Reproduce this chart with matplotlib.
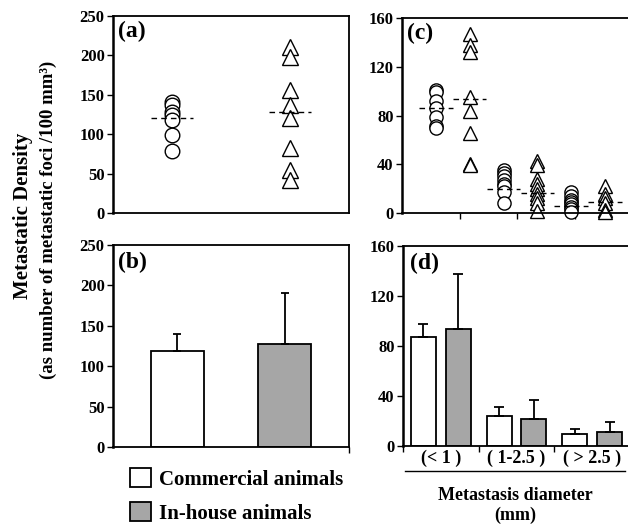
import matplotlib
matplotlib.use('Agg')
import matplotlib.pyplot as plt
from matplotlib.patches import Patch
import numpy as np

plt.rcParams['font.family'] = ['Liberation Serif', 'DejaVu Serif']
plt.rcParams['font.weight'] = 'bold'

# panel (a): individual animals
comm_a = [141, 137, 128, 124, 118, 99, 79]
inh_a = [211, 198, 156, 137, 120, 82, 55, 42]
mean_a = [120, 128]

# panel (b): group means with SD
means_b = [119, 127]
err_b = [21, 63]

# panel (c): per diameter class, commercial / in-house
c_groups = [
    [101, 99, 92, 86, 79, 71, 70],
    [147, 138, 132, 95, 84, 66, 40, 39],
    [35, 33, 30, 27, 24, 22, 17, 8],
    [43, 39, 28, 24, 20, 16, 12, 8, 2],
    [17, 14, 11, 9, 7, 5, 3, 0.5],
    [22, 16, 12, 8, 2.5, 0.5],
]
c_means = [86, 93.5, 20, 16.5, 6, 9.3]

# panel (d)
classes = ['(< 1 )', '( 1-2.5 )', '( > 2.5 )']
comm_d = [87, 24, 10]
comm_d_err = [11, 7, 4]
inh_d = [94, 22, 11]
inh_d_err = [44, 15, 8]

gray = '#a6a6a6'
W, H = 628, 524
fig = plt.figure(figsize=(6.28, 5.24), dpi=100)

def pos(l, t, r, b):
    return [l / W, 1 - b / H, (r - l) / W, (b - t) / H]

ax_a = fig.add_axes(pos(113, 16, 349, 213))
ax_b = fig.add_axes(pos(113, 245, 349, 447))
ax_c = fig.add_axes(pos(402, 18, 632, 213))
ax_d = fig.add_axes(pos(403, 246, 630, 446))

for ax in (ax_a, ax_b, ax_c, ax_d):
    for s in ax.spines.values():
        s.set_linewidth(1.3)
    ax.spines['left'].set_linewidth(1.8)
    ax.tick_params(axis='y', direction='out', length=4, width=1, labelsize=12, pad=2)
    ax.tick_params(axis='x', direction='out', length=4, width=1, labelsize=12)
for ax in (ax_c, ax_d):
    ax.spines['right'].set_visible(False)

# (a)
ax_a.plot([0.25] * len(comm_a), comm_a, 'o', mfc='white', mec='black', ms=10.5, mew=1)
ax_a.plot([0.75] * len(inh_a), inh_a, '^', mfc='white', mec='black', ms=11, mew=1)
for xc, m in zip([0.25, 0.75], mean_a):
    ax_a.plot([xc - 0.088, xc + 0.088], [m, m], 'k--', lw=1, dashes=(4, 3))
ax_a.set_xlim(0, 1)
ax_a.set_ylim(0, 250)
ax_a.set_yticks([0, 50, 100, 150, 200, 250])
ax_a.set_xticks([])
ax_a.text(0.02, 0.975, '(a)', transform=ax_a.transAxes, fontsize=17, va='top', ha='left')

# (b)
ax_b.bar([1, 2], means_b, width=0.5, color=['white', gray], edgecolor='black', linewidth=1.3)
ax_b.errorbar([1, 2], means_b, yerr=[[0, 0], err_b], fmt='none', ecolor='black',
              elinewidth=1.3, capsize=3, capthick=1.3)
ax_b.set_xlim(0.4, 2.6)
ax_b.set_ylim(0, 250)
ax_b.set_yticks([0, 50, 100, 150, 200, 250])
ax_b.set_xticks([2.6])
ax_b.set_xticklabels([''])
ax_b.text(0.02, 0.965, '(b)', transform=ax_b.transAxes, fontsize=17, va='top', ha='left')

# (c)
xs_c = 0.59 + 0.588 * np.arange(len(c_groups))
for i, (xc, vals, m) in enumerate(zip(xs_c, c_groups, c_means)):
    mk = 'o' if i % 2 == 0 else '^'
    ax_c.plot([xc] * len(vals), vals, mk, mfc='white', mec='black', ms=9.5, mew=1, clip_on=False)
    ax_c.plot([xc - 0.29, xc + 0.29], [m, m], 'k--', lw=1, dashes=(4, 3))
ax_c.set_xlim(0, 4)
ax_c.set_ylim(0, 160)
ax_c.set_yticks([0, 40, 80, 120, 160])
ax_c.set_xticks([1, 2, 3])
ax_c.set_xticklabels(['', '', ''])
ax_c.text(0.022, 0.975, '(c)', transform=ax_c.transAxes, fontsize=17, va='top', ha='left')

# (d)
xd = np.arange(len(classes)) + 0.5
ax_d.bar(xd - 0.23, comm_d, width=0.33, color='white', edgecolor='black', linewidth=1.3)
ax_d.bar(xd + 0.23, inh_d, width=0.33, color=gray, edgecolor='black', linewidth=1.3)
ax_d.errorbar(xd - 0.23, comm_d, yerr=[np.zeros(3), comm_d_err], fmt='none', ecolor='black',
              elinewidth=1.3, capsize=3.5, capthick=1.3)
ax_d.errorbar(xd + 0.23, inh_d, yerr=[np.zeros(3), inh_d_err], fmt='none', ecolor='black',
              elinewidth=1.3, capsize=3.5, capthick=1.3)
ax_d.set_xlim(0, 3)
ax_d.set_ylim(0, 160)
ax_d.set_yticks([0, 40, 80, 120, 160])
ax_d.set_xticks([0, 1, 2, 3])
ax_d.set_xticklabels([''] * 4)
ax_d.set_xticks(xd, minor=True)
ax_d.set_xticklabels(classes, minor=True, fontsize=13)
ax_d.tick_params(axis='x', which='minor', length=0, pad=3)
ax_d.text(0.03, 0.965, '(d)', transform=ax_d.transAxes, fontsize=17, va='top', ha='left')
ax_d.plot([0.01, 0.978], [-0.125, -0.125], color='black', lw=1, transform=ax_d.transAxes, clip_on=False)
ax_d.text(0.493, -0.245, 'Metastasis diameter', transform=ax_d.transAxes, ha='center', va='center', fontsize=13)
ax_d.text(0.493, -0.345, '(mm)', transform=ax_d.transAxes, ha='center', va='center', fontsize=13)

# shared y label
fig.text(23 / W, 1 - 216 / H, 'Metastatic Density', rotation=90, ha='center', va='center', fontsize=15)
fig.text(48 / W, 1 - 220 / H, '(as number of metastatic foci /100 mm³)', rotation=90,
         ha='center', va='center', fontsize=13.5)

# legend
handles = [Patch(facecolor='white', edgecolor='black', linewidth=1.3),
           Patch(facecolor=gray, edgecolor='black', linewidth=1.3)]
fig.legend(handles, ['Commercial animals', 'In-house animals'], loc='upper left',
           bbox_to_anchor=(124 / W, 1 - 462 / H), frameon=False, fontsize=15,
           handlelength=1.0, handleheight=1.0, handletextpad=0.4, labelspacing=0.6,
           borderaxespad=0, borderpad=0.3)

fig.savefig('out.png', dpi=100)
